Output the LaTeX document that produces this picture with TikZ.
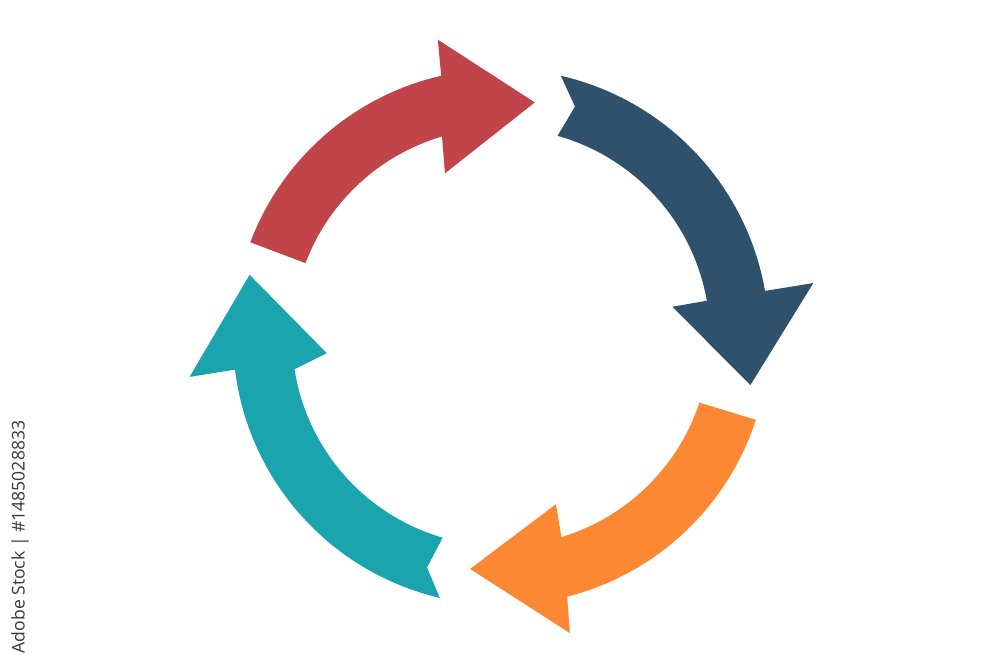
\documentclass[tikz,border=0pt]{standalone}
\usepackage{fontspec}
\newfontfamily\idfont{Open Sans}
\usetikzlibrary{positioning}

\definecolor{arcRed}{RGB}{193,68,74}
\definecolor{arcBlue}{RGB}{47,81,107}
\definecolor{arcOrange}{RGB}{252,136,52}
\definecolor{arcTeal}{RGB}{26,165,174}

\tikzstyle{redArc} = [fill=arcRed, draw=none]
\tikzstyle{blueArc} = [fill=arcBlue, draw=none]
\tikzstyle{orangeArc} = [fill=arcOrange, draw=none]
\tikzstyle{tealArc} = [fill=arcTeal, draw=none]
\tikzstyle{idText} = [rotate=90, inner sep=0, text=black!78, font=\idfont\fontsize{12.5}{14}\selectfont]

\begin{document}
\begin{tikzpicture}[x=0.025cm, y=0.025cm]
    \useasboundingbox (0,0) rectangle (1000,666);

    \begin{scope}[shift={(501,329)}]
    % red: upper left, flat tail
    \fill[redArc] (159.3:268) arc[start angle=159.3, end angle=102.9, radius=268]
        -- (102:304) -- (81.8:237) -- (108.9:173) -- (106.4:209)
        arc[start angle=106.4, end angle=159.3, radius=209] -- cycle;
    % blue: upper right, notched tail
    \fill[blueArc] (77.1:268) arc[start angle=77.1, end angle=9.9, radius=268]
        -- (9.8:317) -- (-10.9:254) -- (10:174) -- (10:209)
        arc[start angle=10, end angle=74.3, radius=209] -- (72.2:242) -- cycle;
    % orange: lower right, flat tail
    \fill[orangeArc] (-18:268) arc[start angle=-18, end angle=-75.7, radius=268]
        -- (-76.9:304) -- (-97.6:234) -- (-71.8:176) -- (-73.2:209)
        arc[start angle=-73.2, end angle=-18.3, radius=209] -- cycle;
    % teal: lower left, notched tail
    \fill[tealArc] (256.8:268) arc[start angle=256.8, end angle=187, radius=268]
        -- (187.3:314) -- (166.1:259) -- (185.3:175) -- (188.9:209)
        arc[start angle=188.9, end angle=253.8, radius=209] -- (252.2:242) -- cycle;
    \end{scope}

    \node (stockid)[idText] at (20,129) {Adobe Stock | \#1485028833};

\end{tikzpicture}
\end{document}
